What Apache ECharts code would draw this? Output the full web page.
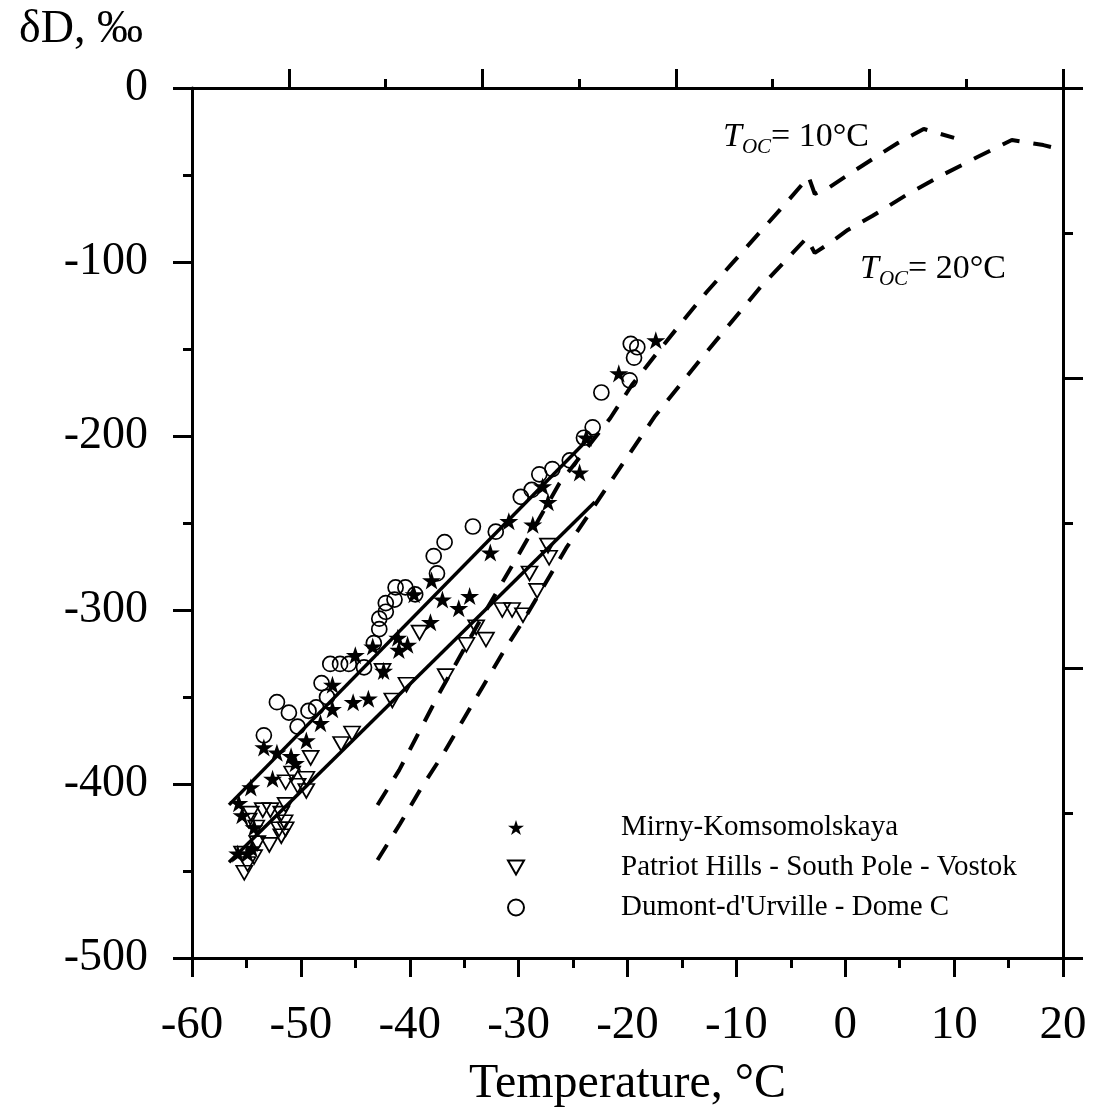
<!DOCTYPE html>
<html><head><meta charset="utf-8">
<script src="https://cdn.jsdelivr.net/npm/echarts@6/dist/echarts.min.js"></script>
<style>html,body{margin:0;padding:0;background:#fff}#c{width:1093px;height:1111px}</style>
</head><body><div id="c"></div>
<script>
// ---- data ----
const mirny = [[-17.4,-145],[-20.8,-164],[-23.8,-201],[-24.4,-221],[-27.3,-238],[-27.8,-229],[-28.7,-251],[-30.9,-249],[-32.6,-267],[-38.0,-283],[-37.0,-294],[-34.5,-292],[-35.5,-299],[-38.1,-307],[-39.6,-291],[-41.1,-316],[-40.2,-320],[-41.0,-323],[-43.4,-321],[-45.0,-326],[-42.4,-335],[-47.1,-343],[-45.2,-353],[-43.8,-351],[-47.1,-357],[-48.2,-365],[-49.5,-375],[-53.4,-379],[-52.2,-382],[-50.9,-384],[-50.5,-388],[-52.6,-397],[-54.6,-402],[-55.7,-411],[-55.4,-418],[-54.3,-425],[-55.8,-440],[-54.9,-440],[-54.5,-437]];
const patriot = [[-27.3,-263],[-27.2,-270],[-29.0,-279],[-28.3,-289],[-31.5,-300],[-30.6,-300],[-29.6,-303],[-33.9,-310],[-33.0,-317],[-34.8,-320],[-36.7,-338],[-39.1,-313],[-40.3,-343],[-41.6,-352],[-42.5,-335],[-45.3,-371],[-46.3,-377],[-49.1,-385],[-50.8,-394],[-49.5,-397],[-51.4,-399],[-50.3,-401],[-49.5,-404],[-53.5,-415],[-52.8,-415],[-51.4,-412],[-51.8,-417],[-51.5,-422],[-52.0,-426],[-51.4,-426],[-51.8,-430],[-54.6,-417],[-54.8,-421],[-54.1,-425],[-54.0,-434],[-52.9,-435],[-54.3,-442],[-55.2,-451],[-55.4,-440],[-54.9,-446]];
const dumont = [[-19.7,-147],[-19.1,-149],[-19.4,-155],[-19.8,-168],[-22.4,-175],[-23.2,-195],[-24.0,-201],[-25.3,-214],[-26.9,-219],[-28.1,-222],[-28.8,-231],[-29.8,-235],[-32.1,-255],[-34.2,-252],[-36.8,-261],[-37.8,-269],[-37.5,-279],[-39.5,-291],[-40.4,-287],[-41.3,-287],[-41.4,-294],[-42.2,-296],[-42.2,-301],[-42.8,-305],[-42.8,-311],[-43.3,-319],[-44.2,-333],[-45.6,-331],[-46.4,-331],[-47.3,-331],[-48.1,-342],[-47.6,-350],[-48.6,-356],[-49.3,-358],[-51.1,-359],[-52.2,-353],[-50.3,-367],[-53.4,-372]];
const fitUpperX = [-56.6, -23.5];
const fitUpperY = [-412, -201];
const fitLowerX = [-56.6, -23.0];
const fitLowerY = [-445, -238];
const toc10X = [-42.96,-40.97,-37.29,-33.61,-29.93,-26.25,-21.59,-19.6,-17.31,-14.97,-12.71,-10.25,-7.80,-5.26,-3.36,-2.80,-1.43,0.23,3.36,4.83,7.2,10.0];
const toc10Y = [-412.1,-392.0,-347.9,-306.7,-267.4,-227.2,-189.8,-170.7,-152.5,-134.3,-117.1,-99.8,-82.6,-64.8,-51.1,-60.9,-56.9,-50.0,-37.4,-31.6,-23.5,-28.7];
const toc20X = [-42.96,-40.90,-38.97,-36.98,-35.14,-33.24,-31.40,-29.47,-25.64,-21.59,-17.45,-12.76,-7.93,-4.83,-3.54,-2.80,-1.43,0.23,2.48,5.61,8.92,12.14,15.3,18.2,20.0];
const toc20Y = [-443.7,-423.0,-402.5,-383.3,-363.6,-343.5,-324.0,-305.2,-264.5,-226.6,-188.3,-151.9,-115.5,-94.8,-86.2,-94.8,-89.1,-81.6,-73.6,-61.5,-50.0,-39.7,-29.9,-32.8,-35.6];
const xTicks = {min: -60, max: 20, step: 10};
const yTicks = {min: -500, max: 0, step: 100};
const names = ['Mirny-Komsomolskaya', 'Patriot Hills - South Pole - Vostok', "Dumont-d'Urville - Dome C"];

const zip = (a, b) => a.map((v, i) => [v, b[i]]);
const FF = "'Liberation Serif','Times New Roman',serif";
const STAR = 'path://M50,0 L61.2,34.5 L97.6,34.5 L68.2,55.9 L79.4,90.5 L50,69.1 L20.6,90.5 L31.8,55.9 L2.4,34.5 L38.8,34.5 Z';
const TRI = 'path://M0,0 L100,0 L50,86.6 Z';
const blk = '#000';
const tickLine = {color: blk, width: 3};
const subRich = {
  t: {fontFamily: FF, fontSize: 34, fontStyle: 'italic', lineHeight: 34, verticalAlign: 'top', fill: blk},
  s: {fontFamily: FF, fontSize: 21, fontStyle: 'italic', lineHeight: 20, verticalAlign: 'top', padding: [17, 0, 0, 0], fill: blk},
  n: {fontFamily: FF, fontSize: 34, lineHeight: 34, verticalAlign: 'top', fill: blk}
};

const chart = echarts.init(document.getElementById('c'), null, {renderer: 'canvas'});
chart.setOption({
  animation: false,
  backgroundColor: '#fff',
  title: {text: 'δD, ‰', left: 14, top: 2, textStyle: {fontFamily: FF, fontSize: 46, fontWeight: 'normal', color: blk}},
  grid: {left: 192, right: 30, top: 88, bottom: 153, outerBoundsMode: 'none', containLabel: false},
  legend: {
    data: names, orient: 'vertical', left: 502, top: 808, itemGap: 11,
    itemWidth: 16, itemHeight: 16,
    textStyle: {fontFamily: FF, fontSize: 29, color: blk, padding: [0, 0, 0, 92]},
    selectedMode: false
  },
  xAxis: [
    {type: 'value', position: 'bottom', min: xTicks.min, max: xTicks.max, interval: xTicks.step,
     axisLine: {show: true, onZero: false, lineStyle: tickLine},
     axisTick: {show: true, inside: false, length: 19, lineStyle: tickLine},
     minorTick: {show: true, splitNumber: 2, length: 10, lineStyle: tickLine},
     splitLine: {show: false},
     axisLabel: {fontFamily: FF, fontSize: 47, color: blk, margin: 44},
     name: 'Temperature, °C', nameLocation: 'middle', nameGap: 102,
     nameTextStyle: {fontFamily: FF, fontSize: 48, color: blk}},
    {type: 'value', position: 'top', min: 0, max: 9, interval: 1,
     axisLine: {show: true, onZero: false, lineStyle: tickLine},
     axisTick: {show: true, inside: false, length: 19, lineStyle: tickLine, customValues: [1,3,5,7,9]},
     splitLine: {show: false}, axisLabel: {show: false}},
    {type: 'value', position: 'top', min: 0, max: 9, interval: 1,
     axisLine: {show: false, onZero: false},
     axisTick: {show: true, inside: false, length: 9, lineStyle: tickLine, customValues: [2,4,6,8]},
     splitLine: {show: false}, axisLabel: {show: false}}
  ],
  yAxis: [
    {type: 'value', position: 'left', min: yTicks.min, max: yTicks.max, interval: yTicks.step,
     axisLine: {show: true, onZero: false, lineStyle: tickLine},
     axisTick: {show: true, inside: false, length: 19, lineStyle: tickLine},
     minorTick: {show: true, splitNumber: 2, length: 9, lineStyle: tickLine},
     splitLine: {show: false},
     axisLabel: {fontFamily: FF, fontSize: 46, color: blk, margin: 44}},
    {type: 'value', position: 'right', min: 0, max: 6, interval: 2,
     axisLine: {show: true, onZero: false, lineStyle: tickLine},
     axisTick: {show: true, inside: false, length: 20, lineStyle: tickLine},
     minorTick: {show: true, splitNumber: 2, length: 10, lineStyle: tickLine},
     splitLine: {show: false}, axisLabel: {show: false}}
  ],
  graphic: [
    {type: 'text', left: 723, top: 120, z: 100, style: {text: '{t|T}{s|OC}{n|= 10°C}', rich: subRich}},
    {type: 'text', left: 860, top: 252, z: 100, style: {text: '{t|T}{s|OC}{n|= 20°C}', rich: subRich}}
  ],
  series: [
    {name: names[2], type: 'scatter', data: dumont, symbol: 'circle', symbolSize: 15,
     itemStyle: {color: 'rgba(255,255,255,0)', borderColor: blk, borderWidth: 1.7, opacity: 1}},
    {name: names[1], type: 'scatter', data: patriot, symbol: TRI, symbolSize: [16, 14],
     itemStyle: {color: 'rgba(255,255,255,0)', borderColor: blk, borderWidth: 1.7, opacity: 1}},
    {name: names[0], type: 'scatter', data: mirny, symbol: STAR, symbolSize: 19, symbolKeepAspect: true,
     itemStyle: {color: blk, opacity: 1}},
    {type: 'line', data: zip(fitUpperX, fitUpperY), showSymbol: false, symbol: 'none', silent: true,
     lineStyle: {color: blk, width: 3.5, opacity: 1}},
    {type: 'line', data: zip(fitLowerX, fitLowerY), showSymbol: false, symbol: 'none', silent: true,
     lineStyle: {color: blk, width: 3.5, opacity: 1}},
    {type: 'line', data: zip(toc10X, toc10Y), showSymbol: false, symbol: 'none', silent: true,
     lineStyle: {color: blk, width: 4, type: [18, 14], opacity: 1}},
    {type: 'line', data: zip(toc20X, toc20Y), showSymbol: false, symbol: 'none', silent: true,
     lineStyle: {color: blk, width: 4, type: [18, 14], opacity: 1}}
  ]
});
</script></body></html>
